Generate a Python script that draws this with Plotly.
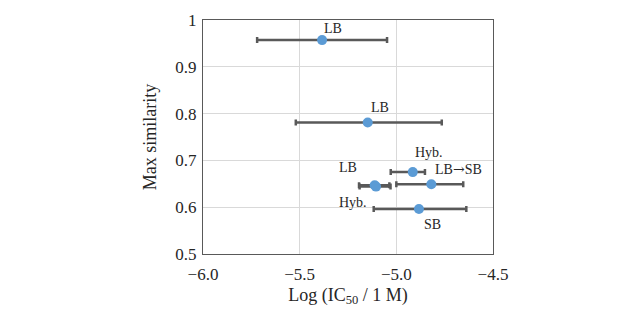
import plotly.graph_objects as go

labels = ["LB", "LB", "Hyb.", "LB", "Hyb.",
          "LB<span style='font-family:DejaVu Serif'>\u2192</span>SB", "SB"]
log_ic50 = [-5.384, -5.148, -4.915, -5.112, -5.105, -4.819, -4.883]
similarity = [0.957, 0.781, 0.675, 0.647, 0.644, 0.649, 0.596]
err_minus = [0.336, 0.372, 0.114, 0.081, 0.085, 0.181, 0.234]
err_plus = [0.336, 0.383, 0.063, 0.076, 0.075, 0.165, 0.245]
label_dx = [11, 12, 16, -27, -23, 27, 14]
label_dy = [12, 15, 20, 18, -16, 15, -15]

SERIF = "Liberation Serif"

fig = go.Figure()
fig.add_trace(go.Scatter(
    x=log_ic50, y=similarity, mode="markers",
    marker=dict(size=10, color="#5b9bd5"),
    error_x=dict(type="data", symmetric=False, array=err_plus, arrayminus=err_minus,
                 color="#595959", thickness=2.5, width=3),
    showlegend=False,
))

for x, y, t, dx, dy in zip(log_ic50, similarity, labels, label_dx, label_dy):
    fig.add_annotation(x=x, y=y, text=t, showarrow=False, xshift=dx, yshift=dy,
                       font=dict(family=SERIF, size=14, color="#262626"))

axis_common = dict(showline=True, linecolor="#595959", linewidth=1, mirror=True,
                   gridcolor="#d9d9d9", gridwidth=1, zeroline=False,
                   ticks="outside", tickcolor="rgba(0,0,0,0)",
                   tickfont=dict(family=SERIF, size=17, color="#262626"))

fig.update_xaxes(range=[-6.0, -4.5], dtick=0.5, tickformat=".1f", ticklen=5,
                 title=dict(text="Log (IC<sub>50</sub> / 1 M)", standoff=4,
                            font=dict(family=SERIF, size=18, color="#262626")),
                 **axis_common)
fig.update_yaxes(range=[0.5, 1.0], dtick=0.1, ticklen=2,
                 title=dict(text="Max similarity", standoff=14,
                            font=dict(family=SERIF, size=18, color="#262626")),
                 **axis_common)

fig.update_layout(width=640, height=330, margin=dict(l=203, r=147, t=20, b=76),
                  paper_bgcolor="white", plot_bgcolor="white",
                  font=dict(family=SERIF, color="#262626"))

fig.write_html("out.html")
